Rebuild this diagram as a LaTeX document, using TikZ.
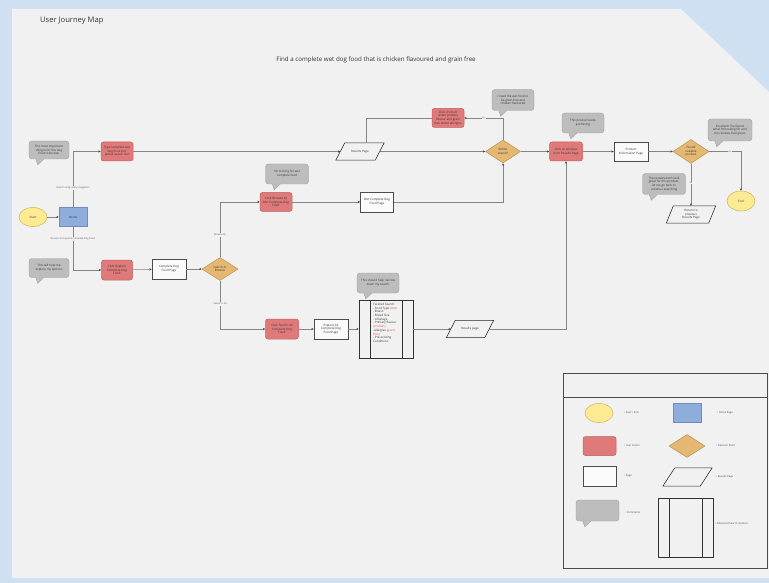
\documentclass[tikz,border=0pt]{standalone}
\usepackage{fontspec}
\setmainfont{Open Sans}
\usetikzlibrary{shapes.geometric,arrows.meta,calc}

\definecolor{bgblue}{HTML}{CFE0F2}
\definecolor{panel}{HTML}{F1F1F1}
\definecolor{actfill}{HTML}{E07A7A}
\definecolor{actline}{HTML}{C25E5E}
\definecolor{decfill}{HTML}{E4B872}
\definecolor{decline}{HTML}{B8924F}
\definecolor{homefill}{HTML}{8EADDB}
\definecolor{homeline}{HTML}{6F8CBB}
\definecolor{termfill}{HTML}{FCEB93}
\definecolor{termline}{HTML}{C9B25E}
\definecolor{cmtfill}{HTML}{BDBDBD}
\definecolor{cmtline}{HTML}{9E9E9E}
\definecolor{pagefill}{HTML}{FAFAFA}
\definecolor{wire}{HTML}{858585}
\definecolor{hl}{HTML}{E8532B}
\definecolor{ink}{HTML}{333333}

\tikzset{
  base/.style={font=\fontsize{3}{3.7}\selectfont, align=center, inner sep=0.5pt, text=ink},
  terminal/.style={base, ellipse, draw=termline, fill=termfill, line width=0.5pt,
    minimum width=28pt, minimum height=19pt},
  homepage/.style={base, rectangle, draw=homeline, fill=homefill, line width=0.5pt,
    minimum width=28pt, minimum height=19pt},
  action/.style={base, rectangle, rounded corners=2.5pt, draw=actline, fill=actfill,
    line width=0.5pt, minimum width=32pt, minimum height=19pt},
  page/.style={base, rectangle, draw=black!70, fill=pagefill, line width=0.5pt,
    minimum width=34pt, minimum height=20pt},
  decision/.style={base, diamond, draw=decline, fill=decfill, line width=0.5pt,
    minimum width=36pt, minimum height=23pt, inner sep=0pt, aspect=1.5},
  % slanted results-page outline; the value is the horizontal lean of the sides
  respage/.style={base, rectangle, minimum width=48pt, minimum height=17pt,
    append after command={\pgfextra{%
      \draw[black!85, line width=0.55pt, line join=miter]
        ($(\tikzlastnode.north west)+(#1,0)$) -- (\tikzlastnode.north east)
        -- ($(\tikzlastnode.south east)+(-#1,0)$) -- (\tikzlastnode.south west) -- cycle;}}},
  respage/.default=9,
  comment/.style={base, rectangle, rounded corners=3pt, draw=cmtline, fill=cmtfill,
    line width=0.4pt, minimum width=42pt, minimum height=20pt},
  advsearch/.style={rectangle, draw=black!80, line width=0.5pt},
  wire/.style={draw=wire, line width=0.5pt},
  arr/.style={wire, -{Stealth[length=2.4pt,width=2.2pt,color=black!75]}},
  wirelabel/.style={font=\fontsize{2.4}{2.8}\selectfont, text=black!65, fill=panel, inner sep=0.6pt},
  legendlabel/.style={font=\fontsize{2.6}{3}\selectfont, text=black!70, anchor=west, inner sep=0pt},
}

% speech-bubble tail under the lower left of a comment node
\newcommand\bubbletail[1]{%
  \fill[cmtfill] ($(#1.south west)+(7,-0.6)$) -- ($(#1.south west)+(9,5.5)$)
    -- ($(#1.south west)+(15,-0.6)$) -- cycle;
  \draw[cmtline, line width=0.4pt] ($(#1.south west)+(7,0)$) -- ($(#1.south west)+(9,5.5)$)
    -- ($(#1.south west)+(15,0)$);}

% inner bars of an advanced-search box
\newcommand\searchbars[2]{%
  \draw[black!80, line width=0.5pt] ($(#1.north west)+(#2,0)$) -- ($(#1.south west)+(#2,0)$);
  \draw[black!80, line width=0.5pt] ($(#1.north east)+(-#2,0)$) -- ($(#1.south east)+(-#2,0)$);}

\begin{document}
\begin{tikzpicture}[x=1pt, y=-1pt]
\useasboundingbox (0,0) rectangle (769,583);
\fill[bgblue] (0,0) rectangle (769,583);
\fill[panel] (12,9) -- (681,9) -- (769,92) -- (769,578) -- (12,578) -- cycle;

% headings
\node[anchor=west, inner sep=0pt, font=\fontsize{7.6}{9}\selectfont, text=ink] (title) at (40,21) {User Journey Map};
\node[font=\fontsize{6.2}{7.5}\selectfont, text=ink] (goal) at (376,60)
  {Find a complete wet dog food that is chicken flavoured and grain free};

% entry
\node[terminal] (start) at (33,217) {Start};
\node[homepage] (home) at (73,217) {Home};

% search route
\node[action] (typeq) at (117,151.5) {Type complete wet\\dog food into\\global search bar};
\node[comment, minimum width=40pt, minimum height=18pt] (cmtwet) at (49,150)
  {The most important\\thing is for the dog\\food to be wet.};
\node[respage] (res1) at (360,151.5) {Results Page};
\coordinate (res1top) at (366,143);
\node[action] (chick) at (448,118) {Click `chicken'\\under primary\\flavour and grain\\free under allergies};
\node[comment, minimum height=21pt] (cmtgrain) at (513,100)
  {I need the wet food to\\be grain free and\\chicken flavoured};
\node[decision, minimum width=35pt] (refine) at (503,151.5) {Refine\\search?};

% browse route
\node[action, minimum width=31pt, minimum height=20pt] (expl) at (117,270)
  {Click `Explore\\Complete Dog\\Food'};
\node[comment, minimum width=40pt, minimum height=19pt] (cmtexpl) at (49,268)
  {This will help me\\explore my options};
\node[page] (cdfp) at (169,269) {Complete Dog\\Food Page};
\node[decision] (sob) at (220,269) {Search or\\Browse};
\node[action] (browse) at (276,202) {Click `Browse by\\Wet Complete Dog\\Food'};
\node[comment, minimum width=43pt] (cmtlook) at (287,174) {I'm looking for wet\\complete food};
\node[page, minimum width=33pt] (wetp) at (377,202) {Wet Complete Dog\\Food Page};
\node[action, minimum width=33pt, minimum height=20pt] (searchall) at (282,329)
  {Click `Search All\\Complete Dog\\Food'};
\node[page] (explall) at (331,329) {Explore All\\Complete Dog\\Food Page};
\node[advsearch, minimum width=54pt, minimum height=58pt] (facet) at (386,329) {};
\searchbars{facet}{11}
\node[base, align=left, anchor=north west] (facettext) at (372.5,302.5)
  {Faceted Search:\\- Food Type \textcolor{hl}{(wet)}\\- Brand\\- Breed Size\\- Lifestage\\- Primary flavour\\
   \textcolor{hl}{(chicken)}\\-Allergies \textcolor{hl}{(grain-}\\\textcolor{hl}{free)}\\- Pre-existing\\Conditions};
\node[comment] (cmtnarrow) at (378,283) {This should help narrow\\down my search};
\node[respage, minimum width=47pt] (res2) at (470,329) {Results page};

% product choice
\node[action, minimum width=33pt] (clickprod) at (566,151.5) {Click on product\\from Results Page};
\node[comment] (cmtprom) at (583,123) {This product looks\\promising};
\node[page, minimum height=19pt] (pip) at (631,151.5) {Product\\Information Page};
\node[decision, minimum height=24pt] (found) at (691,151.5) {Found\\suitable\\product};
\node[comment, minimum width=44pt, minimum height=22pt] (cmtexc) at (730,130)
  {Excellent! I've found\\what I'm looking for and\\the reviews look great.};
\node[comment, minimum width=43pt, minimum height=21pt] (cmtrev) at (664,184)
  {The reviews don't look\\great for this product,\\let me go back to\\continue searching};
\node[respage=7, minimum width=49pt] (ret) at (691,214.5) {Return to\\previous\\Results Page};
\node[terminal, minimum height=20pt] (endn) at (741,201) {End};

\foreach \c in {cmtwet,cmtgrain,cmtexpl,cmtlook,cmtnarrow,cmtprom,cmtexc,cmtrev} {\bubbletail{\c}}

% connectors
\draw[arr] (start) -- (home);
\draw[arr] (home.north) |- (typeq.west);
\node[wirelabel] (lblsearch) at (73,188) {Search using utility navigation};
\draw[arr] (home.south) |- (expl.west);
\node[wirelabel] (lblbrowse) at (73,239) {Browse via `Explore Complete Dog Food'};
\draw[arr] (typeq.east) -- ([xshift=4.5pt]res1.west);
\draw[arr] ([xshift=-4.5pt]res1.east) -- (refine.west);
\draw[arr] (refine.north) |- (chick.east);
\node[wirelabel, font=\fontsize{2}{2.4}\selectfont] (lblyes1) at (484,118) {Yes};
\draw[wire] (chick.west) -| (res1top);
\draw[arr] (expl) -- (cdfp);
\draw[arr] (cdfp) -- (sob);
\draw[arr] (sob.north) |- (browse.west);
\node[wirelabel] (lblby) at (220,235) {Browse By};
\draw[arr] (sob.south) |- (searchall.west);
\node[wirelabel] (lblall) at (220,304) {Search It All};
\draw[arr] (browse) -- (wetp);
\draw[arr] (wetp.east) -| (refine.south);
\draw[arr] (searchall) -- (explall);
\draw[arr] (explall) -- (facet);
\draw[arr] (facet.east) -- ([xshift=4.5pt]res2.west);
\draw[arr] ([xshift=-4.5pt]res2.east) -| (clickprod.south);
\draw[arr] (refine) -- (clickprod);
\draw[arr] (clickprod) -- (pip);
\draw[arr] (pip) -- (found);
\draw[arr] (found.east) -| (endn.north);
\node[wirelabel, font=\fontsize{2}{2.4}\selectfont] (lblyes2) at (730,151.5) {Yes};
\draw[arr] (found.south) -- (ret.north);
\node[wirelabel, font=\fontsize{2}{2.4}\selectfont] (lblno) at (691,183) {No};

% legend
\draw[black!70, line width=0.6pt] (563,373) rectangle (767,568);
\draw[black!70, line width=0.6pt] (563,397) -- (767,397);
\node[terminal] (lgterm) at (599,413) {};
\node[legendlabel] (lgterml) at (624,413) {• Start / End};
\node[homepage] (lghome) at (687,413) {};
\node[legendlabel] (lghomel) at (717,413) {• Home Page};
\node[action, minimum width=33pt] (lgact) at (599.5,446) {};
\node[legendlabel] (lgactl) at (624,446) {• User Action};
\node[decision] (lgdec) at (687,446) {};
\node[legendlabel] (lgdecl) at (716,446) {• Decision Point};
\node[page, minimum width=33pt] (lgpage) at (599.5,476) {};
\node[legendlabel] (lgpagel) at (624,476) {• Page};
\node[respage=12, minimum width=49pt, minimum height=18pt] (lgres) at (687.5,477) {};
\node[legendlabel] (lgresl) at (716,477) {• Results Page};
\node[comment, minimum width=43pt, minimum height=21pt] (lgcmt) at (597.5,510.5) {};
\bubbletail{lgcmt}
\node[legendlabel] (lgcmtl) at (625,513) {• Comments};
\node[advsearch, minimum width=55pt, minimum height=59pt] (lgadv) at (685.5,527.5) {};
\searchbars{lgadv}{11.5}
\node[legendlabel] (lgadvl) at (715,524) {• Advanced Search Options};
\end{tikzpicture}
\end{document}
